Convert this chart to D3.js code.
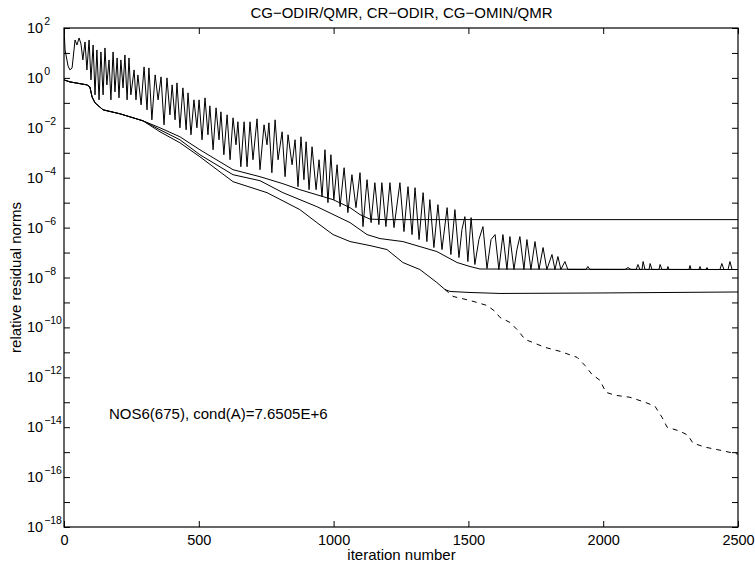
<!DOCTYPE html>
<html>
<head>
<meta charset="utf-8">
<script src="https://cdn.jsdelivr.net/npm/d3@7"></script>
<style>
body{margin:0;background:#fff;}
text{font-family:"Liberation Sans",Arial,sans-serif;fill:#000;}
</style>
</head>
<body>
<svg id="chart-area" width="755" height="562"></svg>
<script>
var titleText = 'CG\u2212ODIR/QMR, CR\u2212ODIR, CG\u2212OMIN/QMR';
var xLabel = 'iteration number';
var yLabel = 'relative residual norms';
var note = 'NOS6(675), cond(A)=7.6505E+6';

var xTicks = [0, 500, 1000, 1500, 2000, 2500];
var yTickExp = [2,1,0,-1,-2,-3,-4,-5,-6,-7,-8,-9,-10,-11,-12,-13,-14,-15,-16,-17,-18];
var yLabelExp = [2,0,-2,-4,-6,-8,-10,-12,-14,-16,-18];

// all series: [iteration, log10(residual)]
var cgOdir = [
[0,2],[4,1.12],[15,0.48],[22,0.32],[30,0.4],[41,1.52],[48,1.32],[56,1.6],[63,1.36],[70,0.72],
[78,1.44],[85,0.32],[93,1.52],[100,-0.08],[108,1.32],[115,-0.68],[122,1.12],[130,-0.88],[137,1.04],[145,-0.68],
[152,1.2],[159,-0.28],[167,0.72],[174,-0.88],[182,1.04],[189,-0.56],[197,0.8],[204,-0.8],[211,0.72],[219,-0.4],
[226,0.92],[234,-0.88],[241,0.8],[248,-0.68],[260,0.32],[267,-0.88],[274,0.12],[286,-1.08],[297,0.44],[308,-1.28],
[315,0.4],[326,-1.68],[338,0.12],[349,-0.88],[360,0.04],[371,-1.88],[382,0],[393,-1.48],[401,-0.28],[412,-1.68],
[419,-0.2],[430,-2],[441,-0.4],[453,-2.08],[460,-0.6],[471,-2.28],[482,-0.88],[493,-2],[501,-0.88],[512,-2.48],
[523,-0.8],[534,-2.28],[541,-1.12],[553,-2.88],[564,-1.2],[575,-2.48],[582,-1.36],[593,-3.08],[605,-1.48],[616,-3.28],
[627,-1.6],[638,-2.68],[645,-1.76],[656,-3.56],[668,-1.76],[679,-3.56],[690,-1.76],[701,-3.28],[716,-1.64],[727,-3.68],
[742,-1.88],[753,-2.68],[760,-1.8],[771,-3.8],[783,-1.68],[794,-3.28],[809,-2.16],[820,-3.96],[831,-2.28],[846,-3.48],
[857,-2.48],[868,-4.36],[879,-2.36],[890,-4.08],[898,-2.56],[909,-4.48],[920,-2.76],[935,-4.48],[946,-3.28],[957,-4.76],
[968,-2.88],[979,-5],[990,-3.08],[1001,-4.88],[1013,-3.48],[1024,-5.16],[1039,-3.6],[1053,-5.4],[1068,-3.88],[1083,-5.2],
[1098,-3.8],[1109,-5.96],[1124,-4.08],[1139,-5.8],[1153,-4.2],[1168,-5.88],[1179,-4.2],[1194,-5.96],[1209,-4.2],[1224,-6],
[1246,-4.2],[1261,-6.16],[1276,-4.36],[1291,-6.28],[1302,-4.4],[1317,-6.48],[1332,-4.6],[1346,-6.56],[1357,-4.88],[1372,-6.8],
[1387,-5.08],[1402,-6.88],[1421,-5.2],[1435,-7.08],[1450,-5.28],[1465,-7.2],[1476,-6.08],[1487,-5.56],[1498,-7.36],[1510,-5.6],
[1524,-7.48],[1539,-6.48],[1554,-5.96],[1569,-7.64],[1584,-6.48],[1599,-6.28],[1613,-7.68],[1628,-6.28],[1643,-7.68],[1654,-6.36],
[1669,-7.68],[1680,-6.88],[1691,-6.36],[1706,-7.68],[1717,-6.48],[1732,-7.68],[1747,-6.56],[1762,-7.68],[1777,-6.8],[1791,-7.68],
[1810,-7.08],[1821,-7.68],[1832,-7.16],[1843,-7.68],[1858,-7.36],[1869,-7.68],[1936,-7.68],[1943,-7.56],[1951,-7.68],[2081,-7.68],
[2092,-7.6],[2103,-7.68],[2122,-7.68],[2129,-7.48],[2136,-7.68],[2144,-7.68],[2148,-7.36],[2155,-7.68],[2170,-7.68],[2174,-7.44],
[2181,-7.68],[2207,-7.68],[2211,-7.48],[2218,-7.68],[2237,-7.68],[2240,-7.56],[2244,-7.68],[2318,-7.68],[2322,-7.52],[2326,-7.68],
[2355,-7.68],[2359,-7.56],[2363,-7.68],[2381,-7.68],[2385,-7.6],[2389,-7.68],[2433,-7.68],[2440,-7.44],[2448,-7.68],[2463,-7.68],
[2470,-7.36],[2478,-7.68],[2500,-7.68]
];

// shared start of the three smooth curves
var smoothHead = [[0,-0.08],[22,-0.16],[85,-0.28],[96,-0.36],[104,-0.76],[115,-1],[145,-1.28],[208,-1.44],[293,-1.72]];

var cgOdirQmr = [[356,-2],[430,-2.36],[504,-2.88],[627,-3.68],[727,-3.96],[812,-4.24],[875,-4.48],[998,-4.88],
[1061,-5.2],[1098,-5.48],[1135,-5.66],[1191,-5.68],[2500,-5.68]];

var crOdir = [[356,-2.08],[430,-2.48],[504,-3.08],[627,-3.88],[727,-4.12],[812,-4.6],[938,-5.16],[1061,-5.8],
[1124,-6.28],[1172,-6.44],[1257,-6.56],[1383,-6.96],[1458,-7.4],[1506,-7.56],[1543,-7.66],[2500,-7.68]];

var cgOminQmr = [[356,-2.16],[430,-2.6],[504,-3.16],[627,-4.16],[753,-4.6],[875,-5.28],[938,-5.8],[998,-6.28],
[1061,-6.56],[1135,-6.72],[1198,-6.88],[1257,-7.4],[1320,-7.68],[1383,-8.2],[1413,-8.48],[1432,-8.56],
[1506,-8.6],[1617,-8.64],[1988,-8.62],[2500,-8.58]];

var cgOminTrue = [[1413,-8.48],[1443,-8.76],[1506,-8.92],[1569,-9.12],[1599,-9.36],[1617,-9.6],[1654,-9.8],
[1680,-10.08],[1710,-10.48],[1747,-10.64],[1784,-10.8],[1840,-10.96],[1903,-11.2],[1932,-11.52],[1958,-11.88],
[1988,-12.12],[2010,-12.6],[2044,-12.72],[2099,-12.8],[2155,-13],[2192,-13.16],[2218,-13.6],[2237,-14],
[2285,-14.16],[2314,-14.32],[2333,-14.64],[2378,-14.8],[2433,-14.92],[2500,-15.08]];

var margin = {left:64, top:28, right:17, bottom:35};
var width = 755 - margin.left - margin.right;
var height = 562 - margin.top - margin.bottom;

var svg = d3.select('#chart-area');
var g = svg.append('g').attr('transform','translate(' + margin.left + ',' + margin.top + ')');

var x = d3.scaleLinear().domain([0,2500]).range([0,width]);
var y = d3.scaleLog().domain([1e-18,1e2]).range([height,0]);

svg.append('defs').append('clipPath').attr('id','clip')
   .append('rect').attr('width',width).attr('height',height);

var line = d3.line()
             .x(function(d){ return x(d[0]); })
             .y(function(d){ return y(Math.pow(10,d[1])); });

var plot = g.append('g').attr('clip-path','url(#clip)');

var series = [
  {data:cgOdir, dash:null},
  {data:smoothHead.concat(cgOdirQmr), dash:null},
  {data:smoothHead.concat(crOdir), dash:null},
  {data:smoothHead.concat(cgOminQmr), dash:null},
  {data:cgOminTrue, dash:'5,5'}
];

plot.selectAll('path.series').data(series).enter()
    .append('path')
    .attr('class','series')
    .attr('d',function(d){ return line(d.data); })
    .attr('fill','none')
    .attr('stroke','#000')
    .attr('stroke-width',1)
    .attr('stroke-linejoin','round')
    .attr('stroke-dasharray',function(d){ return d.dash; });

var yVals = yTickExp.map(function(e){ return Math.pow(10,e); });

g.append('g')
 .call(d3.axisBottom(x).tickValues(xTicks).tickSize(-6).tickSizeOuter(0).tickPadding(8).tickFormat(d3.format('d')))
 .attr('transform','translate(0,' + height + ')')
 .call(function(a){ a.select('.domain').remove(); })
 .selectAll('text')
 .attr('font-size','14.5px')
 .attr('font-family','"Liberation Sans",Arial,sans-serif');

g.append('g')
 .call(d3.axisTop(x).tickValues(xTicks).tickSize(-6).tickSizeOuter(0).tickFormat(''))
 .call(function(a){ a.select('.domain').remove(); });

g.append('g')
 .call(d3.axisLeft(y).tickValues(yVals).tickSize(-6).tickSizeOuter(0).tickFormat(''))
 .call(function(a){ a.select('.domain').remove(); });

g.append('g')
 .attr('transform','translate(' + width + ',0)')
 .call(d3.axisRight(y).tickValues(yVals).tickSize(-6).tickSizeOuter(0).tickFormat(''))
 .call(function(a){ a.select('.domain').remove(); });

g.selectAll('.tick line').attr('stroke','#000').attr('stroke-width',1);

g.append('rect')
 .attr('width',width).attr('height',height)
 .attr('fill','none').attr('stroke','#000').attr('stroke-width',1.2);

var yl = g.selectAll('text.ylab').data(yLabelExp).enter()
          .append('text')
          .attr('class','ylab')
          .attr('x',-37)
          .attr('y',function(e){ return y(Math.pow(10,e)) + 5; })
          .attr('font-size','14.5px');
yl.append('tspan').text('10');
yl.append('tspan')
  .attr('dy',-8)
  .attr('dx',1)
  .attr('font-size','10.5px')
  .text(function(e){ return String(e).replace('-','\u2212'); });

svg.append('text')
   .attr('x',401.5).attr('y',18)
   .attr('text-anchor','middle')
   .attr('font-size','15px')
   .text(titleText);

svg.append('text')
   .attr('x',401.5).attr('y',560)
   .attr('text-anchor','middle')
   .attr('font-size','15px')
   .text(xLabel);

svg.append('text')
   .attr('transform','translate(20.5,' + (margin.top + height/2) + ') rotate(-90)')
   .attr('text-anchor','middle')
   .attr('font-size','15px')
   .text(yLabel);

g.append('text')
 .attr('x',x(167)).attr('y',y(Math.pow(10,-13.68)))
 .attr('font-size','15px')
 .text(note);
</script>
</body>
</html>
